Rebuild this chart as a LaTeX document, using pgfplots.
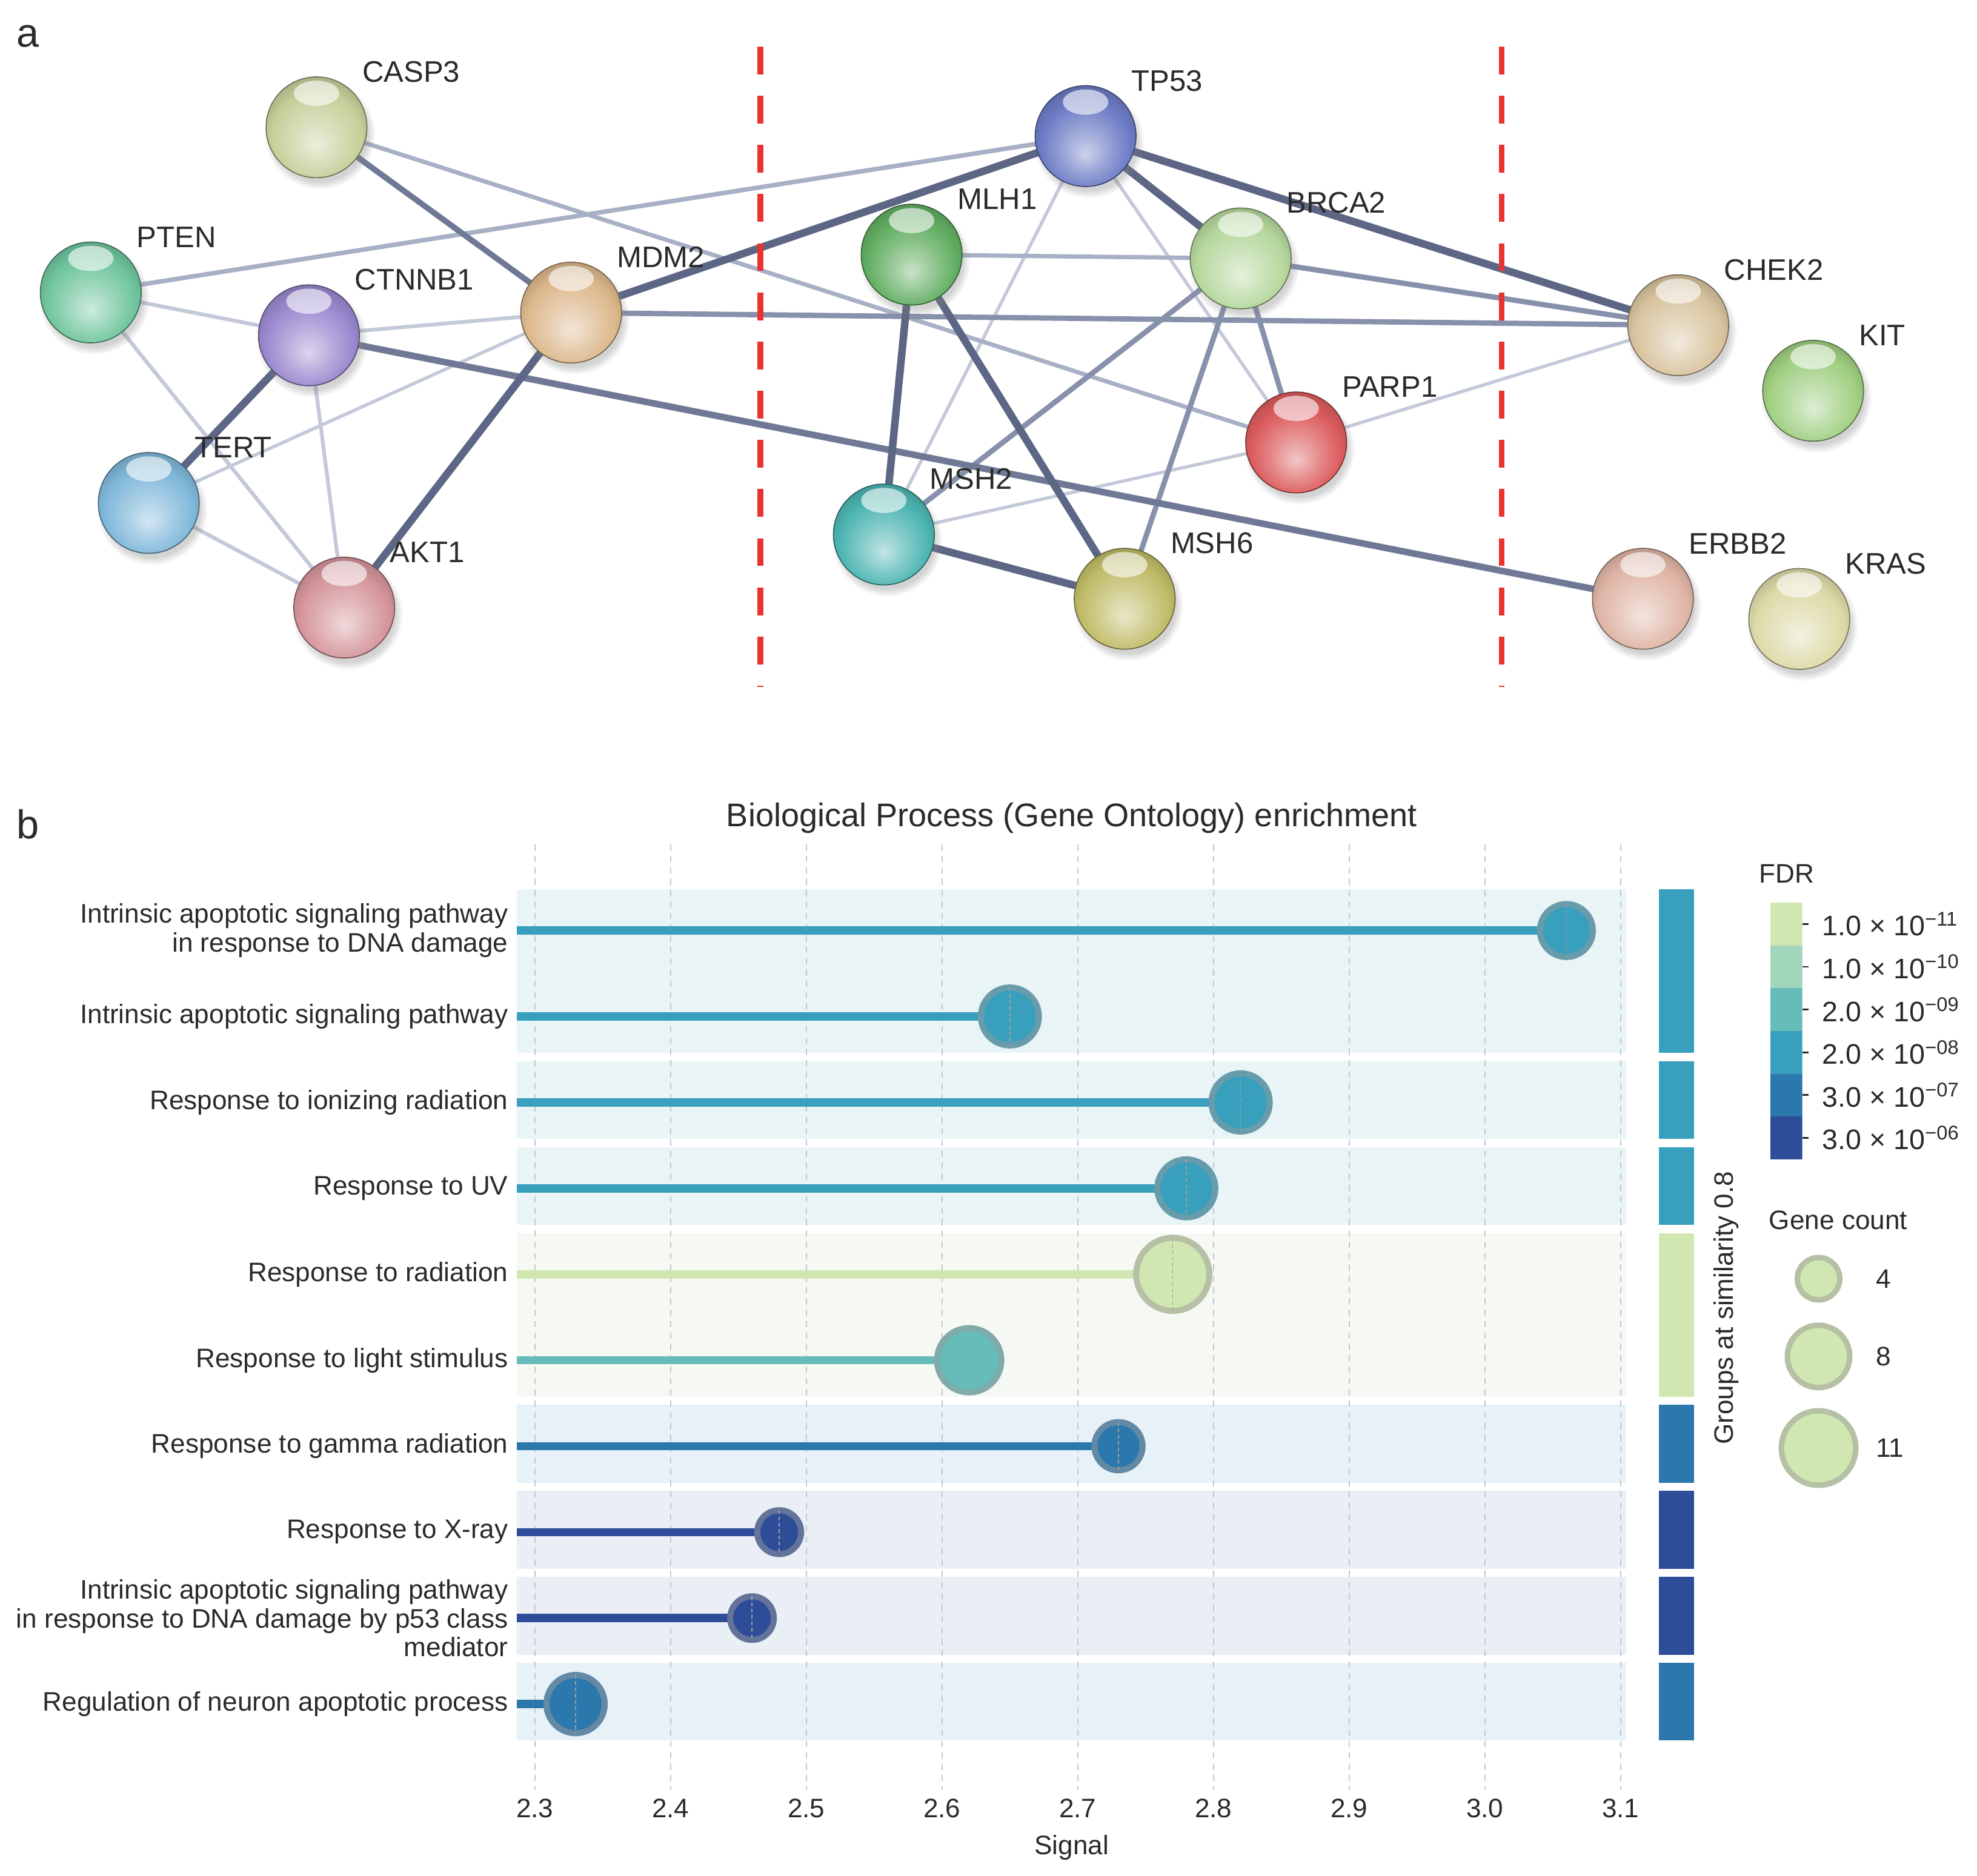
\documentclass[border=0pt]{standalone}
\usepackage{pgfplots}
\pgfplotsset{compat=1.18}
\usetikzlibrary{shadows}
\usepackage{fontspec}
\setmainfont{Liberation Sans}
\setsansfont{Liberation Sans}

% FDR colours
\definecolor{f1}{HTML}{D1E7B1}
\definecolor{f2}{HTML}{A2D6BA}
\definecolor{f3}{HTML}{66BCB9}
\definecolor{f4}{HTML}{389FBD}
\definecolor{f5}{HTML}{2B78AD}
\definecolor{f6}{HTML}{2E4D99}
\definecolor{ringgray}{HTML}{9A9A9A}
\definecolor{txt}{HTML}{2A2A2A}
\definecolor{gridc}{HTML}{C4C8CE}
\definecolor{bandA}{HTML}{E9F4F7}
\definecolor{bandB}{HTML}{F6F8F4}
\definecolor{bandC}{HTML}{E7F1F8}
\definecolor{bandD}{HTML}{EAEEF5}
\definecolor{dashred}{HTML}{E83330}
% network edge colours
\definecolor{eThin}{HTML}{C3C9D9}
\definecolor{eLight}{HTML}{A8B0C6}
\definecolor{eMid}{HTML}{8891AC}
\definecolor{eMidDark}{HTML}{6F7895}
\definecolor{eDark}{HTML}{5D6785}
% protein colours
\definecolor{cCASP3}{HTML}{C5D09A}
\definecolor{cPTEN}{HTML}{70C59E}
\definecolor{cCTNNB1}{HTML}{9A88CF}
\definecolor{cMDM2}{HTML}{DCB88C}
\definecolor{cTERT}{HTML}{80B8DA}
\definecolor{cAKT1}{HTML}{D4959A}
\definecolor{cTP53}{HTML}{6D7CC6}
\definecolor{cMLH1}{HTML}{62AE62}
\definecolor{cBRCA2}{HTML}{B5D79C}
\definecolor{cCHEK2}{HTML}{D8C39E}
\definecolor{cKIT}{HTML}{A0CF82}
\definecolor{cPARP1}{HTML}{DC5C5E}
\definecolor{cMSH2}{HTML}{4DB5B2}
\definecolor{cMSH6}{HTML}{C0BC68}
\definecolor{cERBB2}{HTML}{DFB5A5}
\definecolor{cKRAS}{HTML}{DDDAA8}

\makeatletter
\pgfdeclareradialshading[tikz@ball]{strshade}{\pgfpoint{0bp}{-9bp}}{%
  color(0bp)=(tikz@ball!35!white);
  color(12bp)=(tikz@ball!72!white);
  color(22bp)=(tikz@ball);
  color(30bp)=(tikz@ball!82!black);
  color(35bp)=(tikz@ball!68!black);
  color(50bp)=(tikz@ball!68!black)}
\makeatother

\tikzset{
  strball/.style={circle, minimum size=40pt, inner sep=0pt, ball color=#1, shading=strshade,
    draw=#1!55!black, line width=0.4pt,
    circular drop shadow={shadow xshift=1.2pt, shadow yshift=-2.4pt, opacity=0.35},
    path picture={\fill[white, opacity=0.6] ([yshift=-6.5pt]path picture bounding box.north)
      ellipse [x radius=9pt, y radius=5pt];}},
}

\newcommand{\bfs}{\fontsize{10.6}{11.5}\selectfont}

% one sphere of the network
\newcommand{\ball}[3]{%
  \addplot[draw=none, mark=none, nodes near coords={\relax},
    every node near coord/.append style={strball=#1, anchor=center}] coordinates {(#2,#3)};}

% stem, circle and centre line of one term
\newcommand{\lolli}[4]{%
  \addplot[#3, line width=3.3pt] coordinates {(2.2868,#1) (#2,#1)};
  \addplot[only marks, mark=*, mark size=#4,
    mark options={fill=#3, draw=#3!50!ringgray, line width=2.4pt}] coordinates {(#2,#1)};
  \addplot[only marks, mark=|, mark size=#4,
    mark options={draw=gray!75, line width=0.35pt, dash pattern=on 1.5pt off 1pt}] coordinates {(#2,#1)};}

% background band of a group and its bar on the right
\newcommand{\band}[4]{%
  \addplot[draw=none, fill=#3] coordinates {(2.2868,#1) (3.1043,#1) (3.1043,#2) (2.2868,#2)} -- cycle;
  \addplot[draw=none, fill=#4] coordinates {(3.128,#1) (3.154,#1) (3.154,#2) (3.128,#2)} -- cycle;}

\newcommand{\gline}[1]{%
  \addplot[gridc, line width=0.5pt, dash pattern=on 2.5pt off 2pt] coordinates {(#1,0) (#1,11)};}

\begin{document}
\begin{tikzpicture}
\path[use as bounding box] (0,0) rectangle (784pt,744pt);

\node[font=\fontsize{16}{18}\selectfont, text=txt] at (11pt,729.5pt) {a};
\node[font=\fontsize{16}{18}\selectfont, text=txt] at (11pt,417pt) {b};

% ---------------- panel a : interaction network ----------------
\begin{axis}[at={(0pt,744pt)}, anchor=north west, scale only axis,
  width=784pt, height=280pt, xmin=0, xmax=1568, ymin=0, ymax=560,
  y dir=reverse, hide axis, clip=false]

% weak edges
\addplot[eThin, line width=1.3pt] coordinates {(453,248) (118,399)};
\addplot[eThin, line width=1.3pt] coordinates {(861,108) (701,424)};
\addplot[eThin, line width=1.3pt] coordinates {(861,108) (1028,351)};
\addplot[eThin, line width=1.3pt] coordinates {(1331,258) (1028,351)};
\addplot[eThin, line width=1.3pt] coordinates {(701,424) (1028,351)};
\addplot[eThin, line width=1.5pt] coordinates {(72,232) (245,266)};
\addplot[eThin, line width=1.5pt] coordinates {(72,232) (273,482)};
\addplot[eThin, line width=1.5pt] coordinates {(245,266) (453,248)};
\addplot[eThin, line width=1.5pt] coordinates {(245,266) (273,482)};
\addplot[eThin, line width=1.5pt] coordinates {(118,399) (273,482)};
% light edges
\addplot[eLight, line width=1.7pt] coordinates {(251,101) (1028,351)};
\addplot[eLight, line width=1.8pt] coordinates {(72,232) (861,108)};
\addplot[eLight, line width=1.7pt] coordinates {(723,202) (984,205)};
% medium edges
\addplot[eMid, line width=2.1pt] coordinates {(453,248) (1331,258)};
\addplot[eMid, line width=2.1pt] coordinates {(984,205) (1331,258)};
\addplot[eMid, line width=2.1pt] coordinates {(984,205) (701,424)};
\addplot[eMid, line width=2.1pt] coordinates {(984,205) (892,475)};
\addplot[eMid, line width=2.1pt] coordinates {(984,205) (1028,351)};
\addplot[eMidDark, line width=2.3pt] coordinates {(251,101) (453,248)};
\addplot[eMidDark, line width=2.6pt] coordinates {(245,266) (1303,475)};
% strong edges
\addplot[eDark, line width=3pt] coordinates {(245,266) (118,399)};
\addplot[eDark, line width=3pt] coordinates {(453,248) (861,108)};
\addplot[eDark, line width=3pt] coordinates {(453,248) (273,482)};
\addplot[eDark, line width=3pt] coordinates {(861,108) (984,205)};
\addplot[eDark, line width=3pt] coordinates {(861,108) (1331,258)};
\addplot[eDark, line width=3pt] coordinates {(723,202) (701,424)};
\addplot[eDark, line width=3pt] coordinates {(723,202) (892,475)};
\addplot[eDark, line width=3pt] coordinates {(701,424) (892,475)};

% cluster separators
\addplot[dashred, line width=2.4pt, dash pattern=on 11pt off 8.5pt] coordinates {(603,37) (603,545)};
\addplot[dashred, line width=2.4pt, dash pattern=on 11pt off 8.5pt] coordinates {(1191,37) (1191,545)};

% proteins
\ball{cCASP3}{251}{101}
\ball{cPTEN}{72}{232}
\ball{cCTNNB1}{245}{266}
\ball{cMDM2}{453}{248}
\ball{cTERT}{118}{399}
\ball{cAKT1}{273}{482}
\ball{cTP53}{861}{108}
\ball{cMLH1}{723}{202}
\ball{cBRCA2}{984}{205}
\ball{cCHEK2}{1331}{258}
\ball{cKIT}{1438}{310}
\ball{cPARP1}{1028}{351}
\ball{cMSH2}{701}{424}
\ball{cMSH6}{892}{475}
\ball{cERBB2}{1303}{475}
\ball{cKRAS}{1427}{491}

\addplot[draw=none, mark=none, point meta=explicit symbolic, nodes near coords,
  every node near coord/.append style={anchor=west, xshift=18pt, yshift=22pt,
    font=\fontsize{11.8}{13}\selectfont, text=txt, inner sep=0pt}]
  coordinates {
  (251,101) [CASP3]  (72,232) [PTEN]   (245,266) [CTNNB1] (453,248) [MDM2]
  (118,399) [TERT]   (273,482) [AKT1]  (861,108) [TP53]   (723,202) [MLH1]
  (984,205) [BRCA2]  (1331,258) [CHEK2] (1438,310) [KIT]  (1028,351) [PARP1]
  (701,424) [MSH2]   (892,475) [MSH6]  (1303,475) [ERBB2] (1427,491) [KRAS]
  };
\end{axis}

% ---------------- panel b : enrichment lollipops ----------------
\begin{axis}[at={(205pt,34pt)}, anchor=south west, scale only axis,
  width=440pt, height=375pt,
  xmin=2.2868, xmax=3.1043, ymin=0, ymax=11, y dir=reverse, clip=false,
  axis line style={draw=none}, major tick length=0pt,
  xtick={2.3,2.4,2.5,2.6,2.7,2.8,2.9,3.0,3.1},
  xticklabels={2.3,2.4,2.5,2.6,2.7,2.8,2.9,3.0,3.1},
  ytick={1,2,3,4,5,6,7,8,9,10},
  yticklabels={{Intrinsic apoptotic signaling pathway\\in response to DNA damage},
    {Intrinsic apoptotic signaling pathway},
    {Response to ionizing radiation},
    {Response to UV},
    {Response to radiation},
    {Response to light stimulus},
    {Response to gamma radiation},
    {Response to X-ray},
    {Intrinsic apoptotic signaling pathway\\in response to DNA damage by p53 class\\mediator},
    {Regulation of neuron apoptotic process}},
  tick label style={font=\bfs, text=txt},
  yticklabel style={align=right},
  xlabel={Signal}, xlabel style={font=\bfs, text=txt},
  title={Biological Process (Gene Ontology) enrichment},
  title style={font=\fontsize{13}{15}\selectfont, text=txt, yshift=-5pt},
]
% group bands (left) and group bars (right)
\band{0.52}{2.425}{bandA}{f4}
\band{2.52}{3.425}{bandA}{f4}
\band{3.52}{4.425}{bandA}{f4}
\band{4.52}{6.425}{bandB}{f1}
\band{6.52}{7.425}{bandC}{f5}
\band{7.52}{8.425}{bandD}{f6}
\band{8.52}{9.425}{bandD}{f6}
\band{9.52}{10.425}{bandC}{f5}

\gline{2.3}\gline{2.4}\gline{2.5}\gline{2.6}\gline{2.7}
\gline{2.8}\gline{2.9}\gline{3.0}\gline{3.1}

% row, signal, FDR colour, circle size
\lolli{1}{3.06}{f4}{10.5}
\lolli{2}{2.65}{f4}{11.5}
\lolli{3}{2.82}{f4}{11.55}
\lolli{4}{2.78}{f4}{11.5}
\lolli{5}{2.77}{f1}{14.5}
\lolli{6}{2.62}{f3}{12.75}
\lolli{7}{2.73}{f5}{9.55}
\lolli{8}{2.48}{f6}{8.7}
\lolli{9}{2.46}{f6}{8.65}
\lolli{10}{2.33}{f5}{11.55}

\node[rotate=90, font=\bfs, text=txt] at (axis cs:3.1777,5.392) {Groups at similarity 0.8};
\node[font=\bfs, text=txt] at (axis cs:3.2222,0.337) {FDR};
\node[font=\bfs, text=txt] at (axis cs:3.2603,4.371) {Gene count};

% gene count legend
\addplot[only marks, mark=*, mark size=8.4, mark options={fill=f1, draw=f1!50!ringgray, line width=2.2pt}] coordinates {(3.2458,5.051)};
\addplot[only marks, mark=*, mark size=12.35, mark options={fill=f1, draw=f1!50!ringgray, line width=2.2pt}] coordinates {(3.2458,5.955)};
\addplot[only marks, mark=*, mark size=14.75, mark options={fill=f1, draw=f1!50!ringgray, line width=2.2pt}] coordinates {(3.2458,7.021)};
\node[font=\bfs, text=txt, anchor=west] at (axis cs:3.2816,5.051) {4};
\node[font=\bfs, text=txt, anchor=west] at (axis cs:3.2816,5.955) {8};
\node[font=\bfs, text=txt, anchor=west] at (axis cs:3.2816,7.021) {11};
\end{axis}

% ---------------- FDR colour bar ----------------
\begin{axis}[at={(702pt,284.15pt)}, anchor=south west, scale only axis,
  width=12.7pt, height=101.85pt,
  xmin=0, xmax=1, ymin=0, ymax=6, y dir=reverse,
  axis x line=none, axis y line*=right, y axis line style={draw=none},
  ytick={0.5,1.5,2.5,3.5,4.5,5.5},
  yticklabels={1.0 × 10\textsuperscript{−11}, 1.0 × 10\textsuperscript{−10},
    2.0 × 10\textsuperscript{−09}, 2.0 × 10\textsuperscript{−08},
    3.0 × 10\textsuperscript{−07}, 3.0 × 10\textsuperscript{−06}},
  tick align=outside, major tick length=2.4pt, ytick style={line width=0.7pt, txt},
  yticklabel style={font=\fontsize{11.2}{12}\selectfont, text=txt, xshift=2pt},
]
\addplot[draw=none, fill=f1] coordinates {(0,0) (1,0) (1,1) (0,1)} -- cycle;
\addplot[draw=none, fill=f2] coordinates {(0,1) (1,1) (1,2) (0,2)} -- cycle;
\addplot[draw=none, fill=f3] coordinates {(0,2) (1,2) (1,3) (0,3)} -- cycle;
\addplot[draw=none, fill=f4] coordinates {(0,3) (1,3) (1,4) (0,4)} -- cycle;
\addplot[draw=none, fill=f5] coordinates {(0,4) (1,4) (1,5) (0,5)} -- cycle;
\addplot[draw=none, fill=f6] coordinates {(0,5) (1,5) (1,6) (0,6)} -- cycle;
\end{axis}
\end{tikzpicture}
\end{document}
